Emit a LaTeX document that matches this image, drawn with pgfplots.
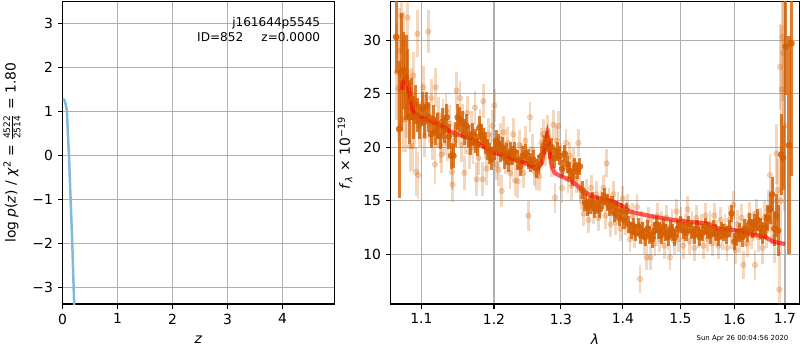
\documentclass[border=0pt]{standalone}
\usepackage{fontspec}
\setmainfont{DejaVu Sans}
\usepackage{pgfplots}
\pgfplotsset{compat=1.18}
\usepackage{pgfplotstable}
\definecolor{gridc}{HTML}{B0B0B0}
\definecolor{orng}{RGB}{212,94,0}
\definecolor{pzc}{RGB}{130,185,222}

\pgfplotstableread{
x y e
1.0680 27.0 4.5
1.0700 25.5 5.0
1.0720 29.0 4.0
1.0744 32.3 3.5
1.0760 22.6 3.0
1.0773 29.6 3.0
1.0790 22.6 3.0
1.0810 23.5 2.6
1.0822 32.1 3.0
1.0840 24.8 2.5
1.0852 20.1 2.4
1.0870 25.0 2.4
1.0887 20.1 2.3
1.0895 26.7 2.2
1.0910 22.5 2.2
1.0930 17.7 2.3
1.0948 30.6 2.2
1.0958 17.4 2.2
1.0975 22.0 2.0
1.1010 24.0 2.0
1.1026 25.6 2.0
1.1045 21.0 1.9
1.1060 23.0 1.9
1.1092 30.8 2.0
1.1110 22.2 1.8
1.1130 24.6 1.8
1.1150 20.6 1.8
1.1181 18.4 1.8
1.1190 25.6 1.8
1.1210 21.6 1.7
1.1230 23.0 1.7
1.1250 20.2 1.7
1.1271 19.3 1.7
1.1290 22.8 1.7
1.1310 21.0 1.7
1.1330 23.4 1.7
1.1350 20.4 1.7
1.1380 22.2 1.7
1.1411 17.7 1.7
1.1420 16.5 1.6
1.1440 20.6 1.6
1.1474 25.3 1.7
1.1500 22.0 1.6
1.1521 24.6 1.6
1.1540 20.2 1.6
1.1560 22.4 1.6
1.1580 17.6 1.6
1.1600 21.0 1.6
1.1620 23.2 1.6
1.1650 19.6 1.6
1.1680 21.8 1.6
1.1700 20.0 1.6
1.1730 23.7 1.6
1.1754 17.0 1.6
1.1780 19.0 1.6
1.1800 22.0 1.6
1.1838 17.0 1.6
1.1848 24.3 1.6
1.1870 20.4 1.5
1.1895 18.0 1.5
1.1920 21.2 1.5
1.1950 19.8 1.5
1.1980 22.0 1.5
1.2005 23.9 1.5
1.2030 18.4 1.5
1.2063 17.9 1.5
1.2090 20.8 1.5
1.2111 15.9 1.5
1.2140 21.4 1.5
1.2170 19.0 1.5
1.2200 20.4 1.5
1.2232 17.6 1.5
1.2260 18.6 1.5
1.2280 21.2 1.5
1.2305 16.9 1.5
1.2345 16.8 1.5
1.2370 20.2 1.4
1.2400 19.0 1.4
1.2430 17.6 1.4
1.2460 20.6 1.4
1.2502 13.6 1.4
1.2528 22.8 1.4
1.2560 19.8 1.4
1.2590 17.8 1.4
1.2629 17.4 1.4
1.2668 17.3 1.4
1.2700 20.4 1.4
1.2730 21.2 1.4
1.2760 19.6 1.4
1.2790 21.6 1.4
1.2820 20.2 1.4
1.2850 18.6 1.4
1.2883 22.1 1.4
1.2909 15.3 1.4
1.2935 20.6 1.4
1.2960 22.0 1.4
1.2990 19.0 1.4
1.3018 16.2 1.4
1.3050 18.8 1.3
1.3080 20.4 1.3
1.3110 17.0 1.3
1.3140 19.2 1.3
1.3170 16.4 1.3
1.3200 18.6 1.3
1.3240 17.0 1.3
1.3274 20.4 1.3
1.3300 16.0 1.3
1.3330 15.4 1.3
1.3360 13.8 1.2
1.3400 15.8 1.2
1.3440 13.2 1.2
1.3480 16.2 1.2
1.3520 14.0 1.2
1.3560 15.6 1.2
1.3600 13.4 1.2
1.3640 14.8 1.2
1.3680 16.2 1.2
1.3710 13.6 1.2
1.3733 18.5 1.3
1.3770 15.0 1.2
1.3800 12.8 1.2
1.3840 15.6 1.2
1.3880 13.0 1.2
1.3920 14.6 1.2
1.3960 12.4 1.2
1.4000 15.2 1.2
1.4040 13.0 1.2
1.4080 14.4 1.2
1.4120 11.4 1.2
1.4160 13.6 1.2
1.4200 11.8 1.2
1.4240 14.4 1.2
1.4291 7.7 1.3
1.4320 12.8 1.2
1.4360 11.2 1.2
1.4406 9.7 1.2
1.4440 13.2 1.2
1.4475 9.7 1.2
1.4510 12.6 1.2
1.4550 11.0 1.2
1.4590 13.6 1.2
1.4630 11.4 1.2
1.4670 12.8 1.2
1.4710 10.8 1.2
1.4750 13.4 1.2
1.4780 11.6 1.2
1.4813 9.7 1.2
1.4850 13.0 1.2
1.4890 11.2 1.2
1.4930 14.0 1.2
1.4970 11.4 1.2
1.5010 13.2 1.2
1.5050 10.8 1.2
1.5090 12.6 1.2
1.5130 14.2 1.2
1.5170 11.2 1.2
1.5210 12.8 1.2
1.5250 10.6 1.2
1.5290 13.4 1.2
1.5330 11.8 1.2
1.5380 12.6 1.2
1.5420 10.8 1.2
1.5460 13.6 1.2
1.5500 11.4 1.2
1.5540 12.8 1.2
1.5580 11.0 1.2
1.5620 13.6 1.2
1.5660 12.0 1.2
1.5700 10.8 1.2
1.5740 13.2 1.2
1.5780 11.6 1.2
1.5820 12.6 1.2
1.5860 10.6 1.2
1.5900 13.2 1.3
1.5940 11.8 1.3
1.5980 14.6 1.3
1.6020 10.4 1.3
1.6060 12.8 1.3
1.6100 11.4 1.3
1.6140 13.4 1.3
1.6171 9.0 1.3
1.6210 12.0 1.3
1.6250 11.0 1.3
1.6290 13.6 1.3
1.6330 11.8 1.3
1.6370 12.6 1.4
1.6399 9.0 1.4
1.6430 13.8 1.4
1.6470 11.6 1.4
1.6510 12.8 1.5
1.6550 10.6 1.5
1.6590 13.4 1.6
1.6630 12.2 1.6
1.6670 14.2 1.8
1.6696 17.4 2.0
1.6730 13.0 2.0
1.6760 15.0 2.2
1.6790 11.6 2.4
1.6831 19.4 2.8
1.6850 16.0 3.0
1.6884 6.7 3.5
1.6897 27.5 4.0
1.6915 15.0 5.0
1.6931 25.4 6.0
1.6951 30.3 6.0
1.6964 28.8 7.0
1.6985 22.0 8.0
}\lightdata

\pgfplotstableread{
x y e
1.0672 30.3 3.4
1.0712 21.7 6.4
1.0740 27.0 5.5
1.0768 27.2 3.6
1.0800 26.5 4.0
1.0825 26.0 3.2
1.0850 22.8 2.5
1.0875 24.5 2.0
1.0900 22.8 2.0
1.0925 24.0 1.8
1.0950 23.0 1.6
1.0980 22.4 1.6
1.1010 23.6 1.6
1.1040 22.4 1.5
1.1070 23.8 1.4
1.1100 22.8 1.4
1.1130 21.2 1.3
1.1160 22.6 1.3
1.1190 21.4 1.2
1.1220 22.0 1.2
1.1250 21.0 1.2
1.1280 22.4 1.3
1.1310 21.6 1.2
1.1340 22.8 1.2
1.1370 21.0 1.2
1.1400 19.2 1.2
1.1430 19.2 1.1
1.1460 21.2 1.2
1.1490 22.8 1.2
1.1520 22.6 1.2
1.1550 22.2 1.2
1.1580 21.4 1.2
1.1610 22.0 1.1
1.1640 21.0 1.1
1.1670 20.4 1.1
1.1700 21.2 1.1
1.1730 20.6 1.1
1.1760 20.2 1.0
1.1790 21.8 1.1
1.1820 21.2 1.0
1.1850 20.8 1.0
1.1880 20.4 1.0
1.1910 19.8 1.0
1.1940 19.4 1.0
1.1970 18.9 1.0
1.2000 19.8 1.0
1.2030 20.6 1.0
1.2060 20.2 1.0
1.2090 19.6 1.0
1.2120 20.0 1.0
1.2150 19.0 1.0
1.2180 19.4 1.0
1.2210 18.6 0.9
1.2240 19.6 0.9
1.2270 19.2 0.9
1.2300 19.6 0.9
1.2340 18.8 0.9
1.2380 18.2 0.9
1.2420 19.2 0.9
1.2460 19.4 0.9
1.2500 18.9 0.9
1.2540 18.6 0.9
1.2580 18.8 0.9
1.2620 18.0 0.9
1.2660 18.4 0.9
1.2700 19.2 0.9
1.2740 20.2 0.9
1.2780 20.6 0.9
1.2820 19.8 0.9
1.2860 20.0 0.9
1.2900 19.0 0.9
1.2940 19.6 0.9
1.2980 19.2 0.9
1.3020 18.0 0.8
1.3060 19.4 0.8
1.3100 18.4 0.8
1.3140 17.8 0.8
1.3180 17.2 0.8
1.3220 18.2 0.8
1.3260 17.8 0.8
1.3300 18.2 0.8
1.3340 16.0 0.8
1.3380 14.8 0.8
1.3420 14.4 0.8
1.3460 14.6 0.8
1.3500 15.0 0.8
1.3540 14.2 0.8
1.3580 14.6 0.8
1.3620 14.2 0.8
1.3660 15.0 0.8
1.3700 15.4 0.8
1.3740 14.8 0.8
1.3780 14.4 0.8
1.3820 14.6 0.8
1.3860 13.8 0.8
1.3900 14.2 0.8
1.3940 13.4 0.8
1.3980 14.0 0.8
1.4020 13.2 0.8
1.4060 14.0 0.8
1.4100 12.8 0.8
1.4140 12.2 0.8
1.4180 12.6 0.8
1.4220 12.0 0.8
1.4260 12.6 0.8
1.4300 11.8 0.8
1.4340 12.2 0.8
1.4380 11.6 0.8
1.4420 12.4 0.8
1.4460 11.8 0.8
1.4500 11.4 0.8
1.4540 12.2 0.8
1.4580 12.8 0.8
1.4620 12.2 0.8
1.4660 11.8 0.8
1.4700 12.6 0.8
1.4740 12.0 0.8
1.4780 11.6 0.8
1.4820 12.4 0.8
1.4860 12.0 0.8
1.4900 11.6 0.8
1.4950 12.4 0.8
1.5000 12.8 0.8
1.5050 12.2 0.8
1.5100 12.0 0.8
1.5150 12.8 0.8
1.5200 12.2 0.8
1.5250 11.8 0.8
1.5300 12.4 0.8
1.5350 11.6 0.8
1.5400 12.0 0.8
1.5450 12.6 0.8
1.5500 12.2 0.8
1.5550 11.8 0.8
1.5600 12.4 0.8
1.5650 12.0 0.8
1.5700 11.6 0.8
1.5750 12.2 0.8
1.5800 12.0 0.8
1.5850 11.8 0.8
1.5900 12.4 0.8
1.5950 13.8 0.8
1.6000 11.2 0.8
1.6050 11.6 0.8
1.6100 12.0 0.9
1.6150 11.6 0.9
1.6200 12.4 0.9
1.6250 12.0 0.9
1.6300 13.0 0.9
1.6350 12.4 0.9
1.6400 12.8 1.0
1.6450 13.2 1.0
1.6500 12.4 1.0
1.6550 12.0 1.0
1.6600 12.6 1.2
1.6650 13.4 1.2
1.6700 14.2 1.4
1.6740 15.6 1.6
1.6780 12.4 1.6
1.6820 13.6 2.0
1.6860 12.2 2.4
1.6920 19.3 3.8
1.6960 19.0 3.0
1.7011 29.4 4.5
1.7080 20.2 10.2
1.7130 29.7 12.4
}\darkdata

\pgfplotstableread{
x y
1.0744 25.36
1.0765 26.14
1.0800 26.45
1.0830 25.67
1.0861 24.42
1.0887 23.49
1.0917 23.02
1.0983 22.80
1.1115 22.49
1.1249 22.09
1.1384 21.46
1.1521 21.15
1.1707 20.69
1.1848 20.06
1.1990 19.50
1.2135 19.28
1.2280 18.88
1.2428 18.57
1.2578 18.19
1.2653 18.04
1.2704 18.50
1.2756 20.06
1.2791 21.15
1.2822 20.06
1.2858 18.19
1.2909 17.57
1.2986 17.32
1.3143 16.95
1.3248 16.48
1.3354 15.86
1.3515 15.39
1.3678 15.14
1.3842 14.92
1.4009 14.45
1.4121 13.99
1.4291 13.77
1.4520 13.52
1.4695 13.36
1.4872 13.21
1.5111 13.05
1.5294 12.96
1.5477 12.90
1.5601 12.59
1.5789 12.27
1.5980 12.27
1.6171 12.12
1.6366 11.81
1.6563 11.71
1.6762 11.18
1.6998 10.96
}\modeldata

\begin{document}
\begin{tikzpicture}
\path[use as bounding box] (0,0) rectangle (576pt,252pt);
\pgfplotsset{
  base/.style={scale only axis, height=217.7pt, anchor=south west,
    axis line style={black,line width=0.8pt},
    tick style={black,line width=0.8pt}, tick align=outside, major tick length=3.5pt,
    xtick pos=bottom, ytick pos=left, xmajorgrids, ymajorgrids,
    grid style={gridc,line width=0.8pt},
    tick label style={font=\fontsize{10}{12}\selectfont},
    /pgf/number format/assume math mode=true,
    label style={font=\fontsize{10}{12}\selectfont}},
}
\begin{axis}[base, at={(45.1pt,33.1pt)}, width=195.6pt,
  xmin=0, xmax=4.94, ymin=-3.38, ymax=3.49,
  xtick={0,1,2,3,4}, xticklabels={0,1,2,3,4},
  ytick={-3,-2,-1,0,1,2,3}, yticklabels={−3,−2,−1,0,1,2,3},
  xlabel={\textit{z}}, xlabel style={at={(axis description cs:0.5,-0.130)}, anchor=base},
  ylabel={log \textit{p}(\textit{z}) / \textit{χ}\textsuperscript{2} = $\frac{\mbox{\fontsize{6.5}{7}\selectfont 4522}}{\mbox{\fontsize{6.5}{7}\selectfont 2514}}$ = 1.80},
  ylabel style={at={(axis description cs:-0.1866,0.5)}, anchor=center}]
\addplot[black, line width=1.0pt] coordinates {(0,-3.38) (0,0.9)};
\addplot[pzc, line width=1.8pt] coordinates {(0,1.28) (0.02,1.27) (0.04,1.24) (0.06,1.13) (0.078,1.0) (0.095,0.5) (0.115,0.0) (0.145,-1.0) (0.175,-2.0) (0.21,-3.4)};
\node[anchor=north east, align=right, font=\fontsize{8.7}{10.8}\selectfont] at (rel axis cs:0.966,0.963) {j161644p5545\\ID=852\hspace{1.5em}z=0.0000};
\end{axis}

\begin{axis}[base, at={(281.3pt,33.1pt)}, width=294.2pt,
  xmode=log, xmin=1.0604, xmax=1.7293, ymin=5.35, ymax=33.6,
  xtick={1.1,1.2,1.3,1.4,1.5,1.6,1.7}, xticklabels={1.1,1.2,1.3,1.4,1.5,1.6,1.7},
  ytick={10,15,20,25,30}, yticklabels={10,15,20,25,30},
  xlabel={\textit{λ}}, xlabel style={at={(axis description cs:0.5,-0.135)}, anchor=base},
  ylabel={\textit{f}\textsubscript{\textit{λ}} × 10\textsuperscript{−19}},
  ylabel style={at={(axis description cs:-0.1118,0.5)}, anchor=center}]
\addplot[orng, only marks, mark=*, mark size=2pt, opacity=0.25,
  mark options={draw=none, fill=orng, opacity=0.25},
  error bars/.cd, y dir=both, y explicit, error mark=none,
  error bar style={orng, line width=2pt, opacity=0.25}]
  table[x=x, y=y, y error=e]{\lightdata};
\addplot[orng, only marks, mark=*, mark size=2.2pt, opacity=0.8,
  mark options={draw=none, fill=orng, opacity=0.8},
  error bars/.cd, y dir=both, y explicit, error mark=none,
  error bar style={orng, line width=2.2pt, opacity=0.8}]
  table[x=x, y=y, y error=e]{\darkdata};
\addplot[red, opacity=0.65, line width=3pt] table[x=x, y=y]{\modeldata};
\end{axis}
\node[anchor=base, font=\fontsize{5}{6}\selectfont] at (534.6pt,6.5pt) {Sun Apr 26 00:04:56 2020};
\end{tikzpicture}
\end{document}
